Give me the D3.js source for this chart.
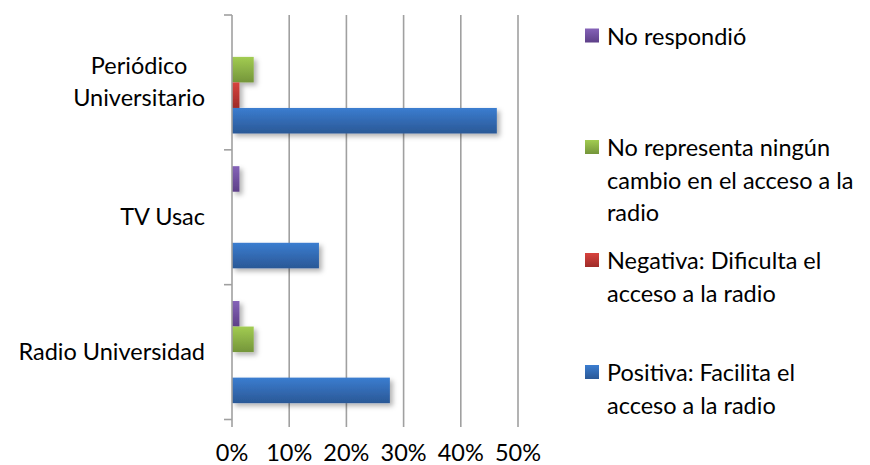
<!DOCTYPE html>
<html><head><meta charset="utf-8">
<script src="https://cdn.jsdelivr.net/npm/d3@7"></script>
<style>html,body{margin:0;padding:0;background:#fff;}svg{display:block;font-family:Lato,"Open Sans",sans-serif;}</style>
</head><body>
<svg id="c" width="870" height="465"></svg>
<script>
const categories = ["Periódico\nUniversitario", "TV Usac", "Radio Universidad"];
const seriesNames = ["No respondió",
  "No representa ningún\ncambio en el acceso a la\nradio",
  "Negativa: Dificulta el\nacceso a la radio",
  "Positiva: Facilita el\nacceso a la radio"];
const noRespondio = [0, 1.3, 1.3];
const ningunCambio = [3.8, 0, 3.8];
const negativa = [1.3, 0, 0];
const positiva = [46.3, 15.2, 27.6];
const xTicks = [0, 10, 20, 30, 40, 50];

const seriesValues = [noRespondio, ningunCambio, negativa, positiva];
const colors = [["#8563b8","#5d3f88"],["#a2cc52","#74953a"],["#d8433e","#9e2b28"],["#3b7dd0","#2a5896"]];

const svg = d3.select("#c");
const defs = svg.append("defs");
colors.forEach((c,i)=>{
  const g = defs.append("linearGradient").attr("id","g"+i).attr("x1",0).attr("y1",0).attr("x2",0).attr("y2",1);
  g.append("stop").attr("offset","0%").attr("stop-color",c[0]);
  g.append("stop").attr("offset","100%").attr("stop-color",c[1]);
});
const f = defs.append("filter").attr("id","sh").attr("x","-10%").attr("y","-30%").attr("width","130%").attr("height","180%");
f.append("feDropShadow").attr("dx",3).attr("dy",3).attr("stdDeviation",2.5).attr("flood-color","#000").attr("flood-opacity",0.3);

const x = d3.scaleLinear().domain([0,50]).range([232,518]);
const y0 = d3.scaleBand().domain(d3.range(categories.length)).range([15,419.5]).padding(0);
const y1 = d3.scaleBand().domain(d3.range(seriesNames.length)).range([0,y0.bandwidth()]).paddingInner(0).paddingOuter(0.64);

// gridlines
svg.append("g").selectAll("line").data(xTicks.slice(1)).join("line")
  .attr("x1",d=>x(d)).attr("x2",d=>x(d)).attr("y1",15).attr("y2",427)
  .attr("stroke","#a0a0a0").attr("stroke-width",1.6);

// bars
const bars = svg.append("g").attr("filter","url(#sh)");
seriesValues.forEach((vals,si)=>{
  bars.selectAll(null).data(vals.map((v,ci)=>({v,ci}))).join("rect")
    .filter(d=>d.v>0)
    .attr("x",x(0)).attr("width",d=>x(d.v)-x(0))
    .attr("y",d=>y0(d.ci)+y1(si)).attr("height",y1.bandwidth())
    .attr("fill","url(#g"+si+")");
});

// y axis
const ya = svg.append("g");
ya.append("line").attr("x1",x(0)).attr("x2",x(0)).attr("y1",15).attr("y2",427).attr("stroke","#a0a0a0").attr("stroke-width",1.6);
const bounds = categories.map((c,i)=>y0(i)).concat([y0(categories.length-1)+y0.bandwidth()]);
ya.selectAll("line.t").data(bounds).join("line").attr("class","t")
  .attr("x1",224).attr("x2",x(0)).attr("y1",d=>d).attr("y2",d=>d).attr("stroke","#a0a0a0").attr("stroke-width",1.6);

const fs = 23.5, lh = 32;
// x tick labels
svg.append("g").selectAll("text").data(xTicks).join("text")
  .attr("x",d=>x(d)).attr("y",461).attr("text-anchor","middle")
  .attr("font-size",fs).attr("fill","#000").text(d=>d+"%");

// category labels
categories.forEach((c,i)=>{
  const lines = c.split("\n");
  const g = svg.append("g");
  const cy = y0(i)+y0.bandwidth()/2;
  const ts = lines.map((l,k)=>g.append("text").attr("font-size",fs).attr("fill","#000")
    .attr("y",cy+(k-(lines.length-1)/2)*lh+8).text(l));
  const maxW = d3.max(ts,t=>t.node().getComputedTextLength());
  ts.forEach(t=>t.attr("text-anchor","middle").attr("x",205-maxW/2));
});

// legend
const legendY = [44.5, 156, 269, 381];
seriesNames.forEach((s,i)=>{
  const g = svg.append("g");
  g.append("rect").attr("x",585).attr("y",legendY[i]-16).attr("width",14).attr("height",14).attr("fill","url(#g"+i+")");
  s.split("\n").forEach((l,k)=>{
    g.append("text").attr("x",607).attr("y",legendY[i]+k*32.5).attr("font-size",fs).attr("fill","#000").text(l);
  });
});
</script>
</body></html>
